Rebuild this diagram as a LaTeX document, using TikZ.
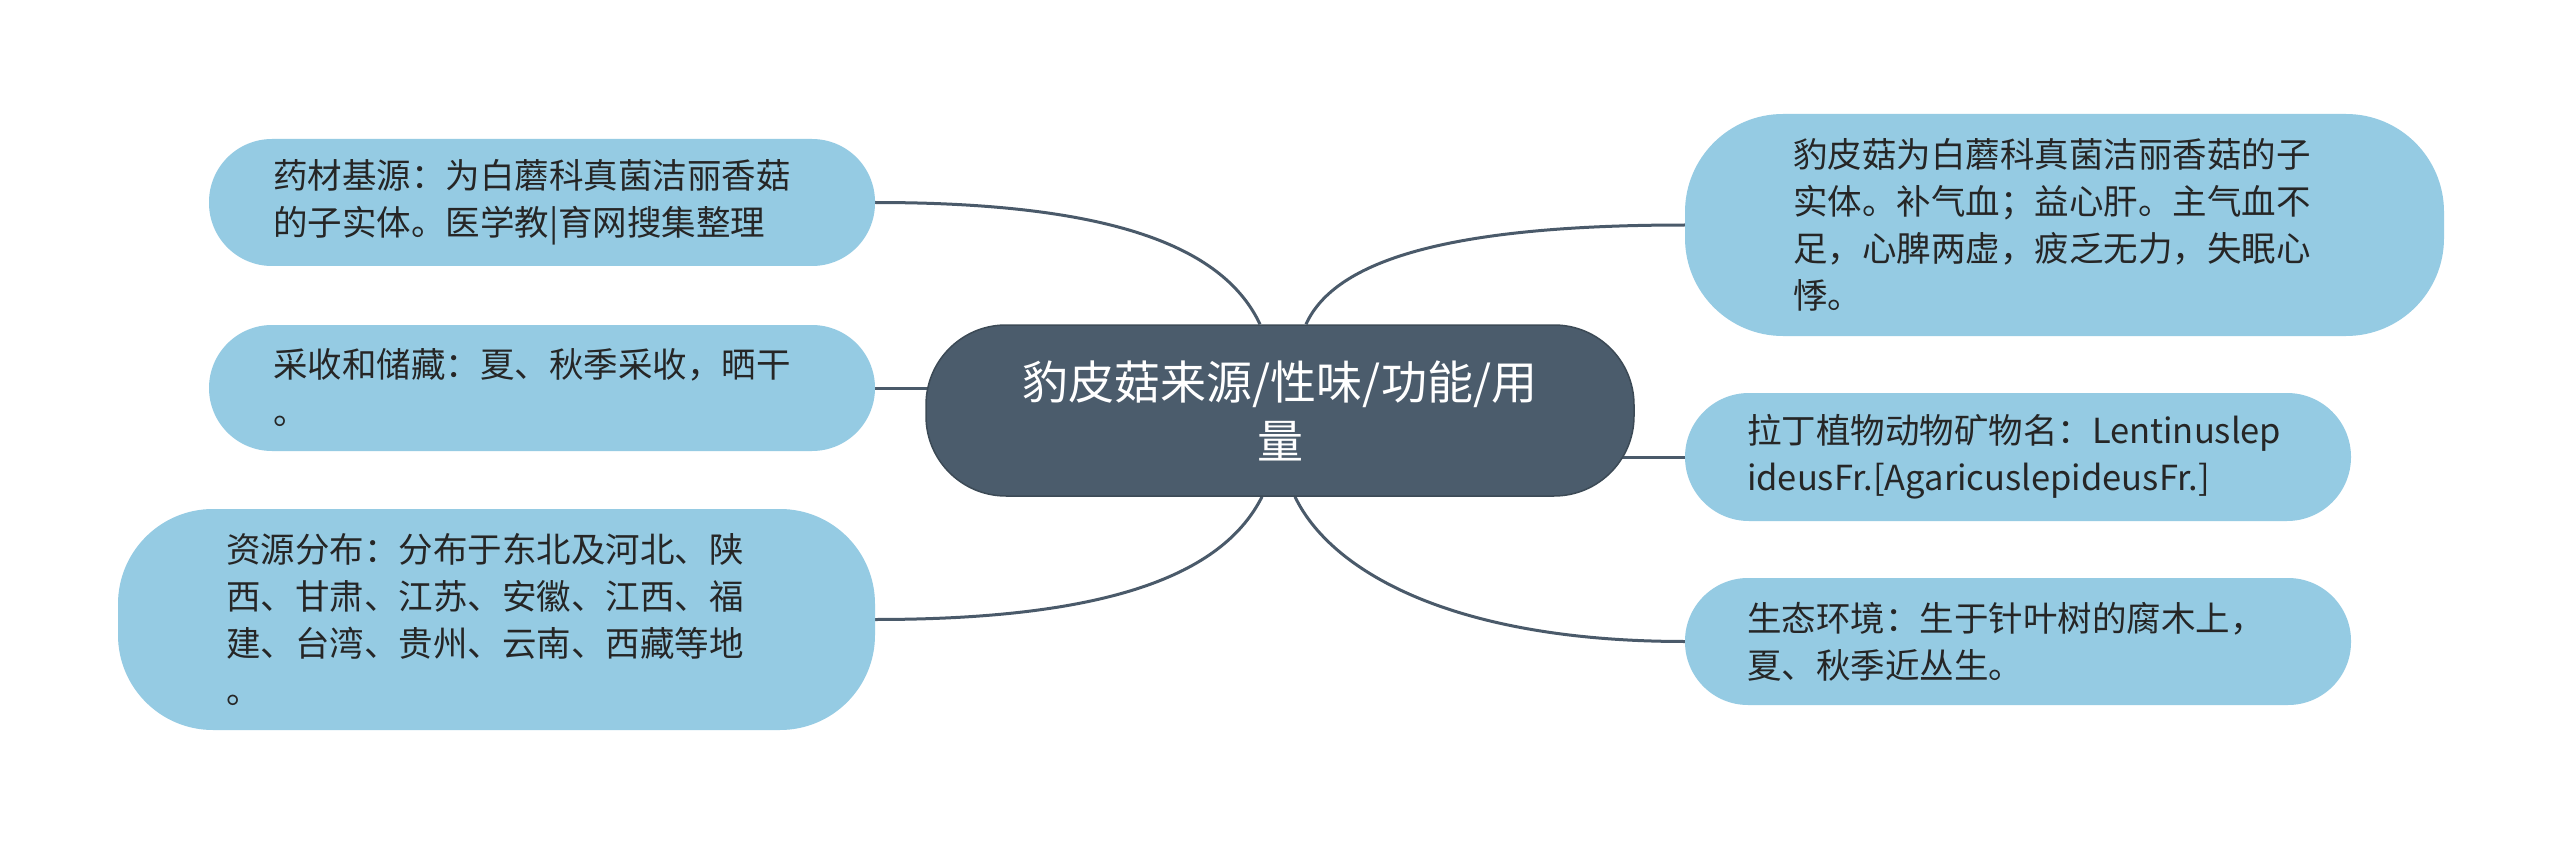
\documentclass[tikz,border=0pt]{standalone}
\usepackage{fontspec}
\setmainfont{Noto Sans CJK SC}
\usetikzlibrary{backgrounds}
\definecolor{leafblue}{HTML}{95CBE3}
\definecolor{hubslate}{HTML}{4B5C6C}
\definecolor{linkslate}{HTML}{4A5A6A}
\definecolor{txtdark}{HTML}{262626}
\tikzset{
  leaf/.style={shape=rectangle, fill=leafblue, draw=none, inner xsep=0pt, inner ysep=0pt,
    align=left, text=txtdark, font=\fontsize{34.5}{47}\selectfont},
  hub/.style={shape=rectangle, fill=hubslate, draw=hubslate!80!black, line width=1.5pt,
    inner xsep=0pt, inner ysep=0pt, align=center, text=white,
    font=\fontsize{46}{59}\selectfont, rounded corners=80pt,
    minimum width=708pt, minimum height=171pt, text width=640pt},
  link/.style={draw=linkslate, line width=3pt}
}
\begin{document}
\begin{tikzpicture}[x=1pt,y=-1pt]
\useasboundingbox (0,0) rectangle (2560,845);

\node[hub] (C) at (1280,410.5) {豹皮菇来源/性味/功能/用\\量};

\node[leaf, minimum width=666pt, minimum height=127pt, text width=538pt, rounded corners=63pt]
  (L1) at (542,202.5) {药材基源：为白蘑科真菌洁丽香菇\\的子实体。医学教|育网搜集整理};
\node[leaf, minimum width=666pt, minimum height=126pt, text width=538pt, rounded corners=63pt]
  (L2) at (542,388) {采收和储藏：夏、秋季采收，晒干\\。};
\node[leaf, minimum width=757pt, minimum height=221pt, text width=541pt, rounded corners=95pt]
  (L3) at (496.5,619.5) {资源分布：分布于东北及河北、陕\\西、甘肃、江苏、安徽、江西、福\\建、台湾、贵州、云南、西藏等地\\。};

\node[leaf, minimum width=759pt, minimum height=222pt, text width=543pt, rounded corners=98pt]
  (R1) at (2064.5,225) {豹皮菇为白蘑科真菌洁丽香菇的子\\实体。补气血；益心肝。主气血不\\足，心脾两虚，疲乏无力，失眠心\\悸。};
\node[leaf, minimum width=666pt, minimum height=128pt, text width=542pt, rounded corners=64pt]
  (R2) at (2018,457) {拉丁植物动物矿物名：Lentinuslep\\ideusFr.[AgaricuslepideusFr.]};
\node[leaf, minimum width=666pt, minimum height=127pt, text width=542pt, rounded corners=63pt]
  (R3) at (2018,641.5) {生态环境：生于针叶树的腐木上，\\夏、秋季近丛生。};

\begin{scope}[on background layer]
  \fill[white] (0,0) rectangle (2560,845);
  \draw[link] (L1.east) .. controls (1120,202.5) and (1225,250) .. ([xshift=-20pt]C.north);
  \draw[link] (L2.east) -- ([xshift=60pt]L2.east -| C.west);
  \draw[link] (L3.east) .. controls (1120,619.5) and (1225,570) .. ([xshift=-18pt]C.south);
  \draw[link] (R1.west) .. controls (1450,225) and (1335,260) .. ([xshift=26pt]C.north);
  \draw[link] (R2.west) -- ([xshift=-60pt]R2.west -| C.east);
  \draw[link] (R3.west) .. controls (1450,641.5) and (1330,570) .. ([xshift=15pt]C.south);
\end{scope}
\end{tikzpicture}
\end{document}
